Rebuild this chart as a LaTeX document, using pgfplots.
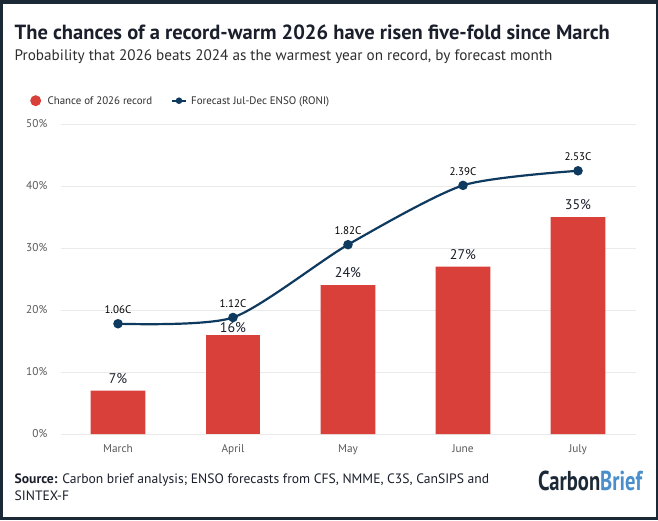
\documentclass[border=0pt]{standalone}
\usepackage{pgfplots}
\pgfplotsset{compat=1.18}
\usepackage{fontspec}
\setmainfont{PT Sans}
\definecolor{framec}{HTML}{1B2836}
\definecolor{titlec}{HTML}{1A1F2B}
\definecolor{subc}{HTML}{2E2E2E}
\definecolor{tickc}{HTML}{5A5A5A}
\definecolor{cbred}{HTML}{D9403A}
\definecolor{cbnavy}{HTML}{0F3A5F}
\definecolor{cblight}{HTML}{4A8FCB}
\definecolor{gridc}{HTML}{EAEAEA}
\begin{document}
\begin{tikzpicture}[x=1pt,y=1pt]
\useasboundingbox (0,0) rectangle (658,520);
\fill[framec] (0,0) rectangle (658,520);
\fill[white] (2.5,3.3) rectangle (655.5,515.5);
% titles
\node[anchor=base west, inner sep=0, text=titlec, font=\bfseries\fontsize{20.5}{24}\selectfont] at (14.5,480.5) {The chances of a record-warm 2026 have risen five-fold since March};
\node[anchor=base west, inner sep=0, text=subc, font=\fontsize{15.2}{18}\selectfont] at (14.5,459) {Probability that 2026 beats 2024 as the warmest year on record, by forecast month};
% legend
\fill[cbred] (35.7,419.3) circle (5.5);
\node[anchor=base west, inner sep=0, text=subc, font=\fontsize{10.9}{13}\selectfont] at (47.4,415.7) {Chance of 2026 record};
\draw[cbnavy, line width=1.8] (172,419.3) -- (186,419.3);
\fill[cbnavy] (179,419.3) circle (3.3);
\node[anchor=base west, inner sep=0, text=subc, font=\fontsize{10.9}{13}\selectfont] at (191,415.7) {Forecast Jul-Dec ENSO (RONI)};
% footer
\node[anchor=base west, inner sep=0, text=titlec, font=\fontsize{13.6}{17}\selectfont] at (14.5,36.7) {\textbf{Source:} Carbon brief analysis; ENSO forecasts from CFS, NMME, C3S, CanSIPS and};
\node[anchor=base west, inner sep=0, text=titlec, font=\fontsize{13.6}{17}\selectfont] at (14.5,20) {SINTEX-F};
\node[anchor=base west, inner sep=0] at (538,29.3) {\resizebox{104pt}{19.5pt}{\bfseries\textcolor{framec}{Carbon}\textcolor{cblight}{Brief}}};
% bars
\begin{axis}[
  at={(60.5pt,86pt)}, anchor=south west, scale only axis,
  width=575pt, height=310pt,
  xmin=-0.5, xmax=4.5, ymin=0, ymax=50,
  axis line style={draw=none}, major tick length=0pt,
  /pgf/number format/assume math mode=true,
  ymajorgrids, grid style={gridc, line width=1pt},
  ytick={0,10,20,30,40,50},
  yticklabel={\pgfmathprintnumber{\tick}\%},
  yticklabel style={inner sep=0pt, xshift=-13pt, text=tickc, font=\fontsize{11.3}{13}\selectfont},
  xtick={0,1,2,3,4},
  xticklabels={March,April,May,June,July},
  xticklabel style={inner sep=0pt, yshift=-10pt, text=tickc, font=\fontsize{11.3}{13}\selectfont},
  clip=false,
]
\addplot[ybar, bar width=0.475, bar shift=0pt, fill=cbred, draw=none,
  nodes near coords={\pgfmathprintnumber{\pgfplotspointmeta}\%},
  nodes near coords style={anchor=south, inner sep=0pt, yshift=7pt, text=titlec, font=\fontsize{14}{16}\selectfont}]
  coordinates {(0,7) (2,24) (3,27) (4,35)};
\addplot[ybar, bar width=0.475, bar shift=0pt, fill=cbred, draw=none,
  nodes near coords={\pgfmathprintnumber{\pgfplotspointmeta}\%},
  nodes near coords style={anchor=south, inner sep=0pt, yshift=1.5pt, text=titlec, font=\fontsize{14}{16}\selectfont}]
  coordinates {(1,16)};
\end{axis}
% ENSO line on hidden secondary axis
\begin{axis}[
  at={(60.5pt,86pt)}, anchor=south west, scale only axis,
  width=575pt, height=310pt,
  xmin=-0.5, xmax=4.5, ymin=0, ymax=2.98,
  axis lines=none, clip=false,
]
\addplot[cbnavy, line width=2.2pt, smooth, tension=0.42, mark=*, mark size=3.6pt,
  mark options={fill=cbnavy, draw=cbnavy},
  point meta=explicit symbolic,
  nodes near coords,
  nodes near coords style={anchor=south, inner sep=0pt, yshift=9pt, text=black, font=\fontsize{11}{13}\selectfont}]
  coordinates {(0,1.06)[1.06C] (1,1.12)[1.12C] (2,1.82)[1.82C] (3,2.39)[2.39C] (4,2.53)[2.53C]};
\end{axis}
\end{tikzpicture}
\end{document}
